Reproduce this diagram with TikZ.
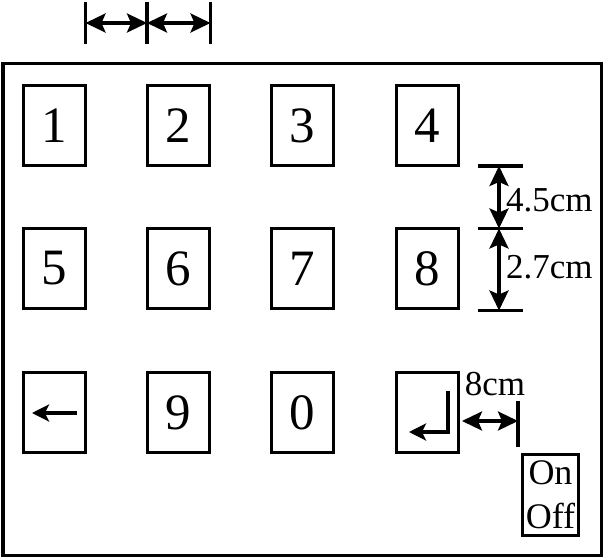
\documentclass[tikz,border=0pt]{standalone}
\usepackage{fontspec}
\setmainfont{Liberation Serif}
\usetikzlibrary{arrows.meta}
\begin{document}
\begin{tikzpicture}[x=1pt,y=-1pt,
  key/.style={draw, line width=3.2pt, minimum width=62pt, minimum height=80pt, inner sep=0pt, font=\fontsize{51}{51}\selectfont},
  lbl/.style={inner sep=0pt, font=\fontsize{35}{35}\selectfont},
  thick3/.style={line width=3.2pt},
  dimarrow/.style={line width=3.2pt, {Stealth[length=20pt,width=19pt,inset=4pt]}-{Stealth[length=20pt,width=19pt,inset=4pt]}},
  onearrow/.style={line width=3.2pt, -{Stealth[length=17pt,width=17pt,inset=4pt]}}]
\useasboundingbox (0,0) rectangle (606,560);
% frame
\draw[thick3] (3,63.5) rectangle (601.5,555.5);
% keys
\node[key] (k1) at (54.5,125.5) {1};
\node[key] (k2) at (178.5,125.5) {2};
\node[key] (k3) at (302.5,125.5) {3};
\node[key] (k4) at (427.5,125.5) {4};
\node[key] (k5) at (54.5,268.5) {5};
\node[key] (k6) at (178.5,268.5) {6};
\node[key] (k7) at (302.5,268.5) {7};
\node[key] (k8) at (427.5,268.5) {8};
\node[key] (kb) at (54.5,412.5) {};
\node[key] (k9) at (178.5,412.5) {9};
\node[key] (k0) at (302.5,412.5) {0};
\node[key] (ke) at (427.5,412.5) {};
\node[draw, line width=3.2pt, minimum width=56pt, minimum height=81pt, inner sep=0pt, align=center, font=\fontsize{36}{44}\selectfont] (oo) at (550.5,495) {On\\Off};
% back arrow
\coordinate (bs) at (77,413);
\coordinate (be) at (32,413);
\draw[onearrow] (bs) -- (be);
% enter symbol
\coordinate (es) at (448,391);
\coordinate (ec) at (448,432);
\coordinate (ee) at (409,432);
\draw[onearrow, line join=miter] (es) -- (ec) -- (ee);
% top dimension
\coordinate (t1a) at (85.5,2); \coordinate (t1b) at (85.5,44);
\coordinate (t2a) at (147,2); \coordinate (t2b) at (147,44);
\coordinate (t3a) at (210.5,2); \coordinate (t3b) at (210.5,44);
\draw[thick3] (t1a) -- (t1b);
\draw[thick3] (t2a) -- (t2b);
\draw[thick3] (t3a) -- (t3b);
\coordinate (a1) at (85.5,23); \coordinate (a2) at (147,23); \coordinate (a3) at (210.5,23);
\draw[dimarrow] (a1) -- (a2);
\draw[dimarrow] (a2) -- (a3);
% right dimension
\coordinate (h1a) at (478,166); \coordinate (h1b) at (523,166);
\coordinate (h2a) at (478,228.5); \coordinate (h2b) at (523,228.5);
\coordinate (h3a) at (478,310.5); \coordinate (h3b) at (523,310.5);
\draw[thick3] (h1a) -- (h1b);
\draw[thick3] (h2a) -- (h2b);
\draw[thick3] (h3a) -- (h3b);
\coordinate (v1) at (499,166); \coordinate (v2) at (499,228.5); \coordinate (v3) at (499,310.5);
\draw[dimarrow] (v1) -- (v2);
\draw[dimarrow] (v2) -- (v3);
\node[lbl, anchor=west] (l45) at (506,200) {4.5cm};
\node[lbl, anchor=west] (l27) at (506,267) {2.7cm};
% 8cm dimension
\coordinate (ga) at (462,421); \coordinate (gb) at (518,421);
\coordinate (gt1) at (518,401); \coordinate (gt2) at (518,447);
\draw[thick3] (gt1) -- (gt2);
\draw[dimarrow] (ga) -- (gb);
\node[lbl] (l8) at (495,384) {8cm};
\end{tikzpicture}
\end{document}
